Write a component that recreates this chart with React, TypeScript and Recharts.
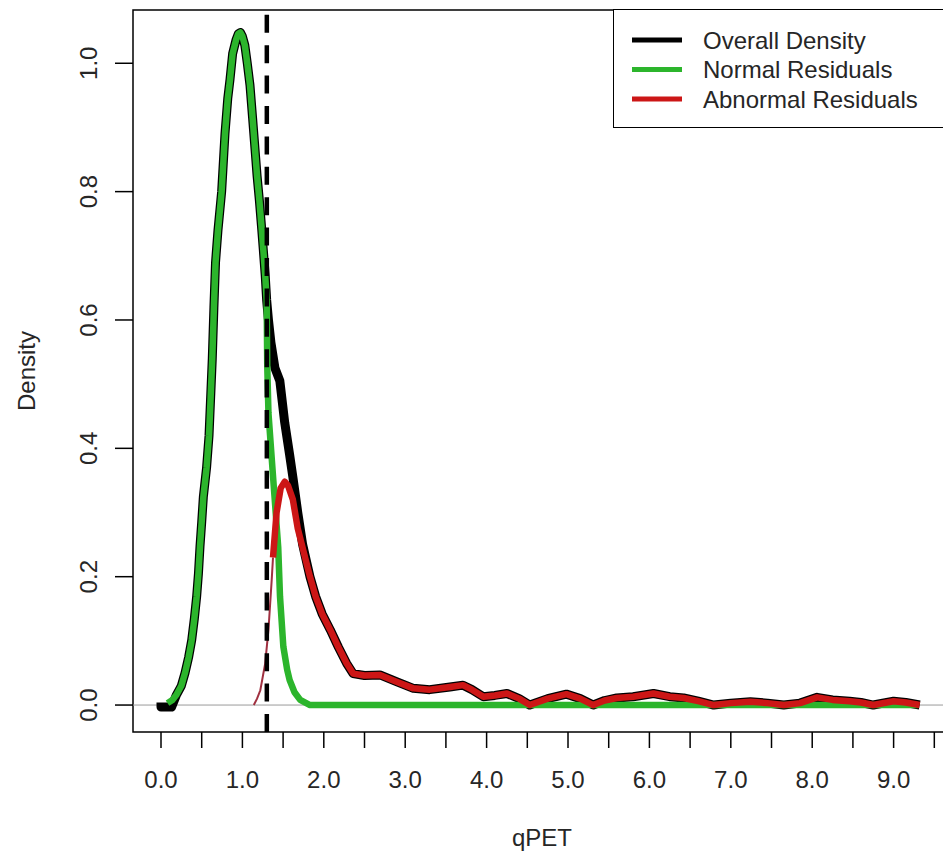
import { Line, LineChart, ReferenceArea, ReferenceLine, XAxis, YAxis } from "recharts";

const FONT = "'Liberation Sans', Arial, sans-serif";
const TEXT = "#262626";

// densities, [qPET, density]
const overallHead: [number, number][] = [
  [0.0, 0.004], [0.0, -0.003], [0.13, -0.003], [0.19, 0.016], [0.25, 0.03],
  [0.295, 0.05], [0.34, 0.075], [0.377, 0.101], [0.41, 0.135], [0.438, 0.169],
  [0.46, 0.205], [0.479, 0.247], [0.5, 0.285], [0.52, 0.324], [0.56, 0.37],
  [0.59, 0.42], [0.61, 0.48], [0.63, 0.54], [0.65, 0.62], [0.67, 0.69],
  [0.7, 0.74], [0.745, 0.8], [0.786, 0.89], [0.82, 0.945], [0.848, 0.975],
  [0.88, 1.015], [0.921, 1.036], [0.95, 1.046], [0.975, 1.048], [1.0, 1.042],
  [1.03, 1.028], [1.06, 1.0], [1.093, 0.966], [1.125, 0.915], [1.155, 0.866],
  [1.18, 0.825], [1.208, 0.787], [1.235, 0.745], [1.257, 0.709], [1.28, 0.67],
  [1.298, 0.631], [1.32, 0.6], [1.35, 0.565], [1.4, 0.525], [1.46, 0.505],
  [1.52, 0.44], [1.58, 0.39], [1.62, 0.355], [1.68, 0.3], [1.74, 0.25],
];

const normalResiduals: [number, number][] = [
  [0.08, 0.003], [0.14, 0.008], [0.19, 0.016], [0.25, 0.03], [0.295, 0.05],
  [0.34, 0.075], [0.377, 0.101], [0.41, 0.135], [0.438, 0.169], [0.46, 0.205],
  [0.479, 0.247], [0.5, 0.285], [0.52, 0.324], [0.56, 0.37], [0.59, 0.42],
  [0.61, 0.48], [0.63, 0.54], [0.65, 0.62], [0.67, 0.69], [0.7, 0.74],
  [0.745, 0.8], [0.786, 0.89], [0.82, 0.945], [0.848, 0.975], [0.88, 1.015],
  [0.921, 1.036], [0.95, 1.046], [0.975, 1.048], [1.0, 1.042], [1.03, 1.028],
  [1.06, 1.0], [1.093, 0.966], [1.125, 0.915], [1.155, 0.866], [1.18, 0.825],
  [1.208, 0.787], [1.235, 0.745], [1.257, 0.709], [1.28, 0.67], [1.298, 0.631],
  [1.305, 0.53], [1.32, 0.455], [1.38, 0.35], [1.44, 0.246], [1.462, 0.169],
  [1.503, 0.091], [1.55, 0.055], [1.58, 0.039], [1.64, 0.02], [1.71, 0.008],
  [1.83, 0.0], [9.3, 0.0],
];

const abnormalLead: [number, number][] = [
  [1.14, 0.0], [1.18, 0.01], [1.22, 0.023], [1.28, 0.065], [1.32, 0.117],
  [1.36, 0.195], [1.376, 0.23],
];

const abnormalHead: [number, number][] = [
  [1.376, 0.23], [1.42, 0.3], [1.47, 0.338], [1.52, 0.348], [1.56, 0.342],
  [1.62, 0.32], [1.68, 0.275], [1.76, 0.235],
];

// black and red share this tail
const tailDensity: [number, number][] = [
  [1.83, 0.2], [1.9, 0.169], [1.98, 0.142], [2.08, 0.117], [2.18, 0.09],
  [2.28, 0.065], [2.36, 0.049], [2.5, 0.046], [2.69, 0.047], [2.9, 0.036],
  [3.1, 0.026], [3.3, 0.024], [3.55, 0.028], [3.71, 0.031], [3.82, 0.024],
  [3.96, 0.013], [4.1, 0.015], [4.25, 0.018], [4.4, 0.01], [4.53, 0.0],
  [4.75, 0.01], [4.98, 0.017], [5.15, 0.01], [5.31, 0.0], [5.45, 0.007],
  [5.6, 0.011], [5.8, 0.013], [6.05, 0.018], [6.25, 0.013], [6.42, 0.011],
  [6.6, 0.006], [6.79, 0.0], [7.0, 0.003], [7.24, 0.005], [7.45, 0.003],
  [7.65, 0.0], [7.85, 0.003], [8.06, 0.012], [8.25, 0.008], [8.46, 0.006],
  [8.6, 0.004], [8.75, 0.0], [9.0, 0.006], [9.15, 0.004], [9.32, 0.0],
];

const cutoff = 1.3;

const xTicks = [0, 0.5, 1, 1.5, 2, 2.5, 3, 3.5, 4, 4.5, 5, 5.5, 6, 6.5, 7, 7.5, 8, 8.5, 9, 9.5];
const yTicks = [0, 0.2, 0.4, 0.6, 0.8, 1.0];

const seriesNames = ["Overall Density", "Normal Residuals", "Abnormal Residuals"];
const seriesColors = ["#000000", "#2cb52c", "#cc1616"];

const X_DOMAIN = [-0.344, 9.705];
const Y_DOMAIN = [-0.042, 1.083];

const toRows = (pts: [number, number][]) => pts.map(([x, y]) => ({ x, y }));

const overallData = toRows([...overallHead, ...tailDensity]);
const normalData = toRows(normalResiduals);
const leadData = toRows(abnormalLead);
const abnormalData = toRows([...abnormalHead, ...tailDensity]);

const XTick = (props: any) => {
  const { x, y, payload } = props;
  if (!Number.isInteger(payload.value)) return <g />;
  return (
    <text x={x} y={y} dy={38} textAnchor="middle" fontSize={24} fontFamily={FONT} fill={TEXT}>
      {payload.value.toFixed(1)}
    </text>
  );
};

const YTick = (props: any) => {
  const { y, payload } = props;
  return (
    <text transform={`translate(97, ${y}) rotate(-90)`} textAnchor="middle" fontSize={24} fontFamily={FONT} fill={TEXT}>
      {payload.value.toFixed(1)}
    </text>
  );
};

const XTitle = (props: any) => {
  const vb = props.viewBox;
  return (
    <text x={vb.x + vb.width / 2} y={846} textAnchor="middle" fontSize={24} fontFamily={FONT} fill={TEXT}>
      qPET
    </text>
  );
};

const YTitle = (props: any) => {
  const vb = props.viewBox;
  return (
    <text transform={`translate(35, ${vb.y + vb.height / 2}) rotate(-90)`} textAnchor="middle" fontSize={24} fontFamily={FONT} fill={TEXT}>
      Density
    </text>
  );
};

const LegendBox = () => (
  <div
    style={{
      position: "absolute", left: 613, top: 9, width: 345, height: 119,
      border: "1.5px solid #000", boxSizing: "border-box", background: "#fff",
    }}
  >
    <svg width={345} height={116} style={{ display: "block" }}>
      {seriesNames.map((name, i) => (
        <g key={name}>
          <line x1={18} x2={68} y1={30 + i * 29.5} y2={30 + i * 29.5} stroke={seriesColors[i]} strokeWidth={5} />
          <text x={89} y={38.5 + i * 29.5} fontSize={24} fontFamily={FONT} fill={TEXT}>{name}</text>
        </g>
      ))}
    </svg>
  </div>
);

export default function App() {
  return (
    <div style={{ position: "absolute", left: 0, top: 0, width: 943, height: 853, overflow: "hidden", background: "#fff" }}>
      <LineChart width={960} height={853} margin={{ top: 10, right: 9, bottom: 0, left: 0 }}>
        <ReferenceArea
          x1={X_DOMAIN[0]} x2={X_DOMAIN[1]} y1={Y_DOMAIN[0]} y2={Y_DOMAIN[1]}
          fill="none" stroke="#000" strokeWidth={1.5}
        />
        <ReferenceLine y={0} stroke="#9a9a9a" strokeWidth={1} />
        <XAxis
          type="number" dataKey="x" domain={X_DOMAIN} ticks={xTicks} interval={0}
          allowDataOverflow height={121} tickSize={16} axisLine={false}
          tickLine={{ stroke: "#000", strokeWidth: 1.5 }} tick={XTick} label={XTitle}
        />
        <YAxis
          type="number" domain={Y_DOMAIN} ticks={yTicks} interval={0}
          allowDataOverflow width={133} tickSize={18} axisLine={false}
          tickLine={{ stroke: "#000", strokeWidth: 1.5 }} tick={YTick} label={YTitle}
        />
        <Line data={overallData} dataKey="y" type="linear" stroke={seriesColors[0]} strokeWidth={9}
          strokeLinejoin="round" dot={false} activeDot={false} isAnimationActive={false} />
        <Line data={normalData} dataKey="y" type="linear" stroke={seriesColors[1]} strokeWidth={6.5}
          strokeLinejoin="round" dot={false} activeDot={false} isAnimationActive={false} />
        <Line data={leadData} dataKey="y" type="linear" stroke="#a03040" strokeWidth={2}
          dot={false} activeDot={false} isAnimationActive={false} />
        <Line data={abnormalData} dataKey="y" type="linear" stroke={seriesColors[2]} strokeWidth={6.5}
          strokeLinejoin="round" dot={false} activeDot={false} isAnimationActive={false} />
        <ReferenceLine x={cutoff} stroke="#000" strokeWidth={4.5} strokeDasharray="18 12.4" />
      </LineChart>
      <LegendBox />
    </div>
  );
}
